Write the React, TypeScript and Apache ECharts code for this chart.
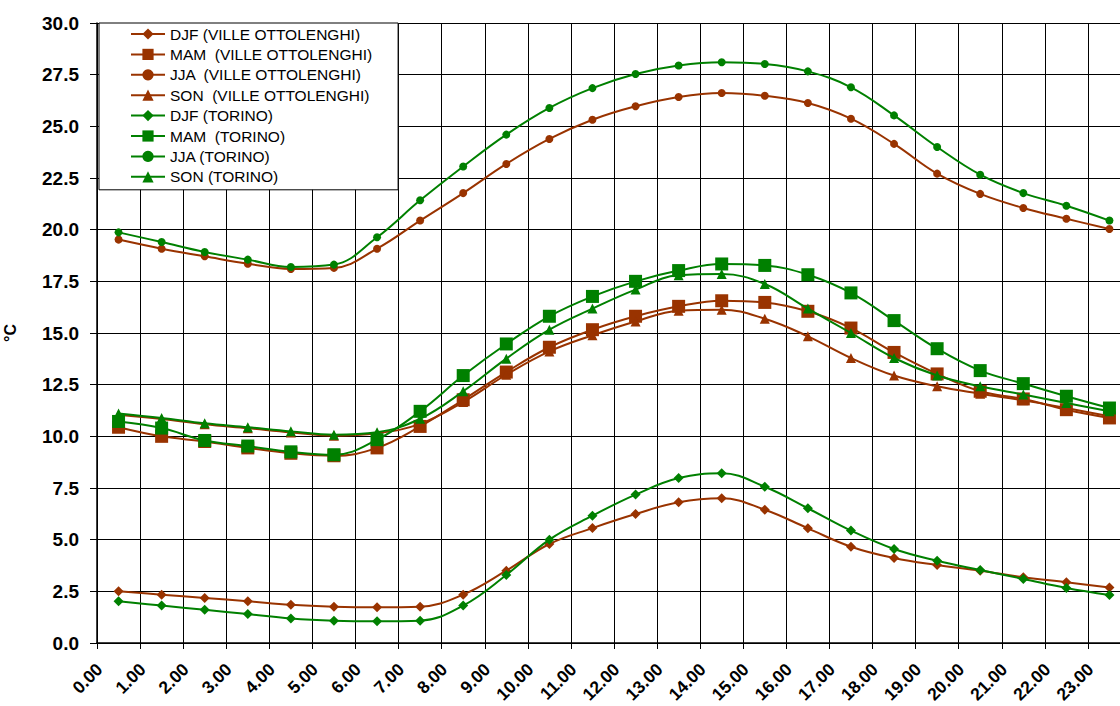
import React, { useEffect, useRef } from "react";
import * as echarts from "echarts";

const hourLabels = [
  "0.00", "1.00", "2.00", "3.00", "4.00", "5.00", "6.00", "7.00",
  "8.00", "9.00", "10.00", "11.00", "12.00", "13.00", "14.00", "15.00",
  "16.00", "17.00", "18.00", "19.00", "20.00", "21.00", "22.00", "23.00",
];

const seriesNames = [
  "DJF (VILLE OTTOLENGHI)",
  "MAM  (VILLE OTTOLENGHI)",
  "JJA  (VILLE OTTOLENGHI)",
  "SON  (VILLE OTTOLENGHI)",
  "DJF (TORINO)",
  "MAM  (TORINO)",
  "JJA (TORINO)",
  "SON (TORINO)",
];

const djfVille = [2.50, 2.34, 2.18, 2.02, 1.85, 1.76, 1.73, 1.76, 2.34, 3.50, 4.79, 5.56, 6.24, 6.81, 7.00, 6.45, 5.55, 4.66, 4.11, 3.77, 3.50, 3.18, 2.94, 2.69];
const mamVille = [10.44, 10.00, 9.75, 9.44, 9.18, 9.06, 9.44, 10.48, 11.77, 13.11, 14.31, 15.16, 15.81, 16.29, 16.56, 16.48, 16.05, 15.24, 14.06, 13.02, 12.18, 11.81, 11.29, 10.89];
const jjaVille = [19.52, 19.08, 18.71, 18.35, 18.10, 18.15, 19.08, 20.44, 21.77, 23.18, 24.39, 25.32, 25.97, 26.42, 26.61, 26.48, 26.13, 25.37, 24.15, 22.71, 21.73, 21.05, 20.53, 20.03];
const sonVille = [11.05, 10.84, 10.58, 10.39, 10.19, 10.03, 10.15, 10.60, 11.66, 12.98, 14.11, 14.89, 15.56, 16.08, 16.13, 15.69, 14.84, 13.79, 12.94, 12.42, 12.06, 11.74, 11.37, 10.97];
const djfTorino = [2.02, 1.81, 1.61, 1.40, 1.19, 1.08, 1.05, 1.08, 1.81, 3.29, 5.00, 6.16, 7.18, 7.98, 8.21, 7.56, 6.52, 5.44, 4.55, 3.98, 3.53, 3.10, 2.66, 2.32];
const mamTorino = [10.72, 10.40, 9.80, 9.53, 9.25, 9.11, 9.84, 11.21, 12.94, 14.47, 15.81, 16.77, 17.50, 18.02, 18.34, 18.27, 17.82, 16.94, 15.60, 14.24, 13.18, 12.55, 11.94, 11.37];
const jjaTorino = [19.87, 19.40, 18.92, 18.55, 18.19, 18.31, 19.63, 21.42, 23.06, 24.60, 25.89, 26.85, 27.53, 27.94, 28.10, 28.02, 27.66, 26.89, 25.53, 24.00, 22.66, 21.77, 21.16, 20.44];
const sonTorino = [11.11, 10.89, 10.63, 10.44, 10.24, 10.08, 10.20, 10.85, 12.18, 13.76, 15.16, 16.18, 17.10, 17.79, 17.85, 17.37, 16.18, 15.00, 13.79, 12.94, 12.42, 12.02, 11.61, 11.21];

const seriesData = [djfVille, mamVille, jjaVille, sonVille, djfTorino, mamTorino, jjaTorino, sonTorino];

const BROWN = "#993300";
const GREEN = "#008000";
const FONT = 'Arial, "Liberation Sans", sans-serif';

const symbols = ["diamond", "rect", "circle", "triangle"];
const symbolSizes = [10, 13, 8, 10];

export default function App() {
  const ref = useRef<HTMLDivElement>(null);

  useEffect(() => {
    if (!ref.current) return;
    const chart = echarts.init(ref.current, undefined, { renderer: "svg" });

    const series = seriesNames.map((name, i) => {
      const color = i < 4 ? BROWN : GREEN;
      return {
        name,
        type: "line",
        data: seriesData[i],
        smooth: 0.4,
        symbol: symbols[i % 4],
        symbolSize: symbolSizes[i % 4],
        showAllSymbol: true,
        lineStyle: { color, width: 2 },
        itemStyle: { color, borderColor: color, borderWidth: 0 },
        z: 2 + i,
      };
    });

    chart.setOption({
      animation: false,
      backgroundColor: "#ffffff",
      grid: {
        left: 97,
        right: 1,
        top: 23,
        bottom: 63,
        containLabel: false,
        outerBoundsMode: "none",
      },
      legend: {
        orient: "vertical",
        left: 99,
        top: 23,
        itemWidth: 34,
        itemHeight: 14,
        itemGap: 4.4,
        padding: [3, 26, 5, 31],
        borderColor: "#000000",
        borderWidth: 1,
        backgroundColor: "#ffffff",
        textStyle: { fontSize: 15.5, color: "#000000", fontFamily: FONT },
        data: seriesNames,
        z: 10,
      },
      xAxis: {
        type: "category",
        data: hourLabels,
        boundaryGap: true,
        axisLine: { show: true, lineStyle: { color: "#000000", width: 1.5 } },
        axisTick: { show: true, length: 6, inside: false, lineStyle: { color: "#000000", width: 1 } },
        splitLine: { show: true, lineStyle: { color: "#000000", width: 1 } },
        axisLabel: {
          interval: 0,
          rotate: 45,
          margin: 17,
          verticalAlign: "bottom",
          padding: [0, 18, 0, 0],
          color: "#000000",
          fontWeight: "bold",
          fontSize: 17.5,
          fontFamily: FONT,
        },
      },
      yAxis: {
        type: "value",
        min: 0,
        max: 30,
        interval: 2.5,
        name: "°C",
        nameLocation: "middle",
        nameGap: 79,
        nameRotate: 90,
        nameTextStyle: { color: "#000000", fontWeight: "bold", fontSize: 16, fontFamily: FONT },
        axisLine: { show: true, lineStyle: { color: "#000000", width: 1.5 } },
        axisTick: { show: true, length: 7, inside: false, lineStyle: { color: "#000000", width: 1 } },
        splitLine: { show: true, lineStyle: { color: "#000000", width: 1 } },
        axisLabel: {
          margin: 18,
          color: "#000000",
          fontWeight: "bold",
          fontSize: 19,
          fontFamily: FONT,
          formatter: (v: number) => v.toFixed(1),
        },
      },
      series,
    });

    return () => chart.dispose();
  }, []);

  return (
    <div
      style={{ position: "fixed", left: 0, top: 0, width: 1120, height: 706, overflow: "hidden", background: "#fff" }}
    >
      <div ref={ref} style={{ width: 1132, height: 706 }} />
    </div>
  );
}
